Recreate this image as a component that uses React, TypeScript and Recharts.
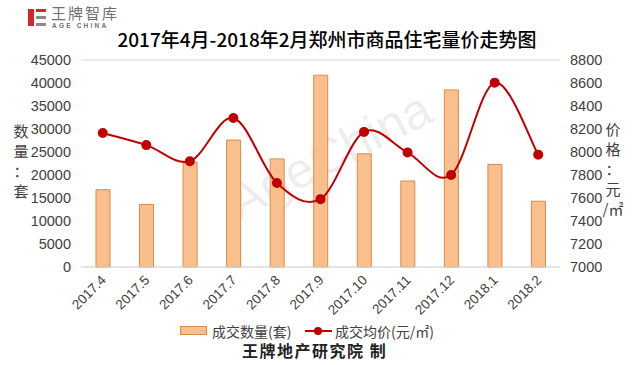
import { Bar, CartesianGrid, ComposedChart, Line, XAxis, YAxis } from 'recharts';

const months = ['2017.4', '2017.5', '2017.6', '2017.7', '2017.8', '2017.9', '2017.10', '2017.11', '2017.12', '2018.1', '2018.2'];
const volume = [16800, 13600, 22800, 27600, 23500, 41700, 24600, 18700, 38500, 22300, 14300];
const price = [8165, 8060, 7920, 8295, 7730, 7590, 8175, 7995, 7800, 8603, 7977];
const volumeTicks = [0, 5000, 10000, 15000, 20000, 25000, 30000, 35000, 40000, 45000];
const priceTicks = [7000, 7200, 7400, 7600, 7800, 8000, 8200, 8400, 8600, 8800];

const rows = months.map((month, i) => ({ month, volume: volume[i], price: price[i] }));

const font = '"Liberation Sans", Arial, "Noto Sans CJK SC", sans-serif';
const cjk = '"Noto Sans CJK SC", "Liberation Sans", sans-serif';
const textGray = '#404040';
const barFill = '#f9c08e';
const barStroke = '#d98a4a';
const lineRed = '#c00000';

// Excel-style smoothed line (catmull-rom bezier)
function smoothCurve(context: any) {
  let pts: number[][] = [];
  return {
    areaStart() {},
    areaEnd() {},
    lineStart() {
      pts = [];
    },
    lineEnd() {
      if (!pts.length) return;
      context.moveTo(pts[0][0], pts[0][1]);
      for (let i = 0; i < pts.length - 1; i++) {
        const p0 = pts[Math.max(i - 1, 0)];
        const p1 = pts[i];
        const p2 = pts[i + 1];
        const p3 = pts[Math.min(i + 2, pts.length - 1)];
        context.bezierCurveTo(
          p1[0] + (p2[0] - p0[0]) / 6, p1[1] + (p2[1] - p0[1]) / 6,
          p2[0] - (p3[0] - p1[0]) / 6, p2[1] - (p3[1] - p1[1]) / 6,
          p2[0], p2[1]
        );
      }
    },
    point(x: number, y: number) {
      pts.push([+x, +y]);
    },
  };
}

type TickProps = { x?: number; y?: number; payload?: { value: string } };

function MonthTick({ x = 0, y = 0, payload }: TickProps) {
  return (
    <g transform={`translate(${x + 4},${y + 6})`}>
      <text textAnchor="end" transform="rotate(-45)" fontSize={13.5} fill={textGray} fontFamily={font}>
        {payload?.value}
      </text>
    </g>
  );
}

function VerticalLabel({ chars, left, top }: { chars: string[]; left: number; top: number }) {
  return (
    <div style={{ position: 'absolute', left, top, width: 30, textAlign: 'center', fontFamily: cjk, fontSize: 15, lineHeight: '20px', color: textGray, whiteSpace: 'nowrap' }}>
      {chars.map((c, i) => (
        <div key={i}>{c}</div>
      ))}
    </div>
  );
}

export default function App() {
  return (
    <div style={{ position: 'absolute', left: 0, top: 0, width: 640, height: 365, background: '#fff', overflow: 'hidden' }}>
      {/* logo */}
      <div style={{ position: 'absolute', left: 28, top: 9, width: 6, height: 17, background: '#d6262b' }} />
      <div style={{ position: 'absolute', left: 36, top: 9, width: 10, height: 3, background: '#d6262b' }} />
      <div style={{ position: 'absolute', left: 36, top: 16, width: 10, height: 3, background: '#8a8a8a' }} />
      <div style={{ position: 'absolute', left: 36, top: 23, width: 10, height: 3, background: '#8a8a8a' }} />
      <div style={{ position: 'absolute', left: 51, top: 4, fontFamily: cjk, fontSize: 15, lineHeight: '17px', color: '#707070', letterSpacing: 2 }}>王牌智库</div>
      <div style={{ position: 'absolute', left: 52, top: 22, fontFamily: font, fontSize: 6.5, fontWeight: 700, lineHeight: '7px', color: '#707070', letterSpacing: 2.2 }}>AGE CHINA</div>

      <div style={{ position: 'absolute', left: 0, width: 640, top: 26, textAlign: 'center', fontFamily: cjk, fontSize: 19, fontWeight: 500, lineHeight: '26px', color: '#000', paddingLeft: 14, boxSizing: 'border-box' }}>
        2017年4月-2018年2月郑州市商品住宅量价走势图
      </div>

      <VerticalLabel chars={['数', '量', '：', '套']} left={6} top={121} />
      <VerticalLabel chars={['价', '格', '：', '元', '/㎡']} left={598} top={119} />

      <div style={{ position: 'absolute', left: 0, top: 0 }}>
        <ComposedChart width={640} height={365} data={rows} margin={{ top: 60, right: 0, left: 0, bottom: 48 }}>
          <text x={330} y={172} textAnchor="middle" transform="rotate(-27 330 155)" fontSize={50} fontFamily={font} fill="#000" fillOpacity={0.07}>
            AgeChina
          </text>
          <CartesianGrid stroke="#d9d9d9" vertical={false} />
          <XAxis dataKey="month" height={50} tick={<MonthTick />} interval={0} tickLine={false} axisLine={{ stroke: '#d9d9d9' }} />
          <YAxis yAxisId="v" width={81} domain={[0, 45000]} ticks={volumeTicks} axisLine={false} tickLine={false} tickSize={0} tickMargin={10}
            tick={{ fontSize: 14.5, fill: textGray, fontFamily: font }} />
          <YAxis yAxisId="p" orientation="right" width={80} domain={[7000, 8800]} ticks={priceTicks} axisLine={false} tickLine={false} tickSize={0} tickMargin={10}
            tick={{ fontSize: 14.5, fill: textGray, fontFamily: font, textAnchor: 'start' }} />
          <Bar yAxisId="v" dataKey="volume" barSize={14} fill={barFill} stroke={barStroke} strokeWidth={1} isAnimationActive={false} />
          <Line yAxisId="p" dataKey="price" type={smoothCurve as any} stroke={lineRed} strokeWidth={2} dot={{ r: 4, fill: lineRed, stroke: lineRed }} isAnimationActive={false} />
        </ComposedChart>
      </div>

      {/* legend */}
      <div style={{ position: 'absolute', left: 180, top: 326, width: 27, height: 9, background: barFill, border: `1px solid ${barStroke}`, boxSizing: 'border-box' }} />
      <div style={{ position: 'absolute', left: 212, top: 321, fontFamily: cjk, fontSize: 14, lineHeight: '20px', color: textGray }}>成交数量(套)</div>
      <div style={{ position: 'absolute', left: 305, top: 330, width: 27, height: 2, background: lineRed }} />
      <div style={{ position: 'absolute', left: 314, top: 327, width: 8, height: 8, borderRadius: 4, background: lineRed }} />
      <div style={{ position: 'absolute', left: 335, top: 321, fontFamily: cjk, fontSize: 14, lineHeight: '20px', color: textGray }}>成交均价(元/㎡)</div>

      <div style={{ position: 'absolute', left: 242, top: 340, fontFamily: cjk, fontSize: 16, fontWeight: 700, lineHeight: '20px', color: '#222', letterSpacing: 1.5, whiteSpace: 'nowrap' }}>
        王牌地产研究院 制
      </div>
    </div>
  );
}
